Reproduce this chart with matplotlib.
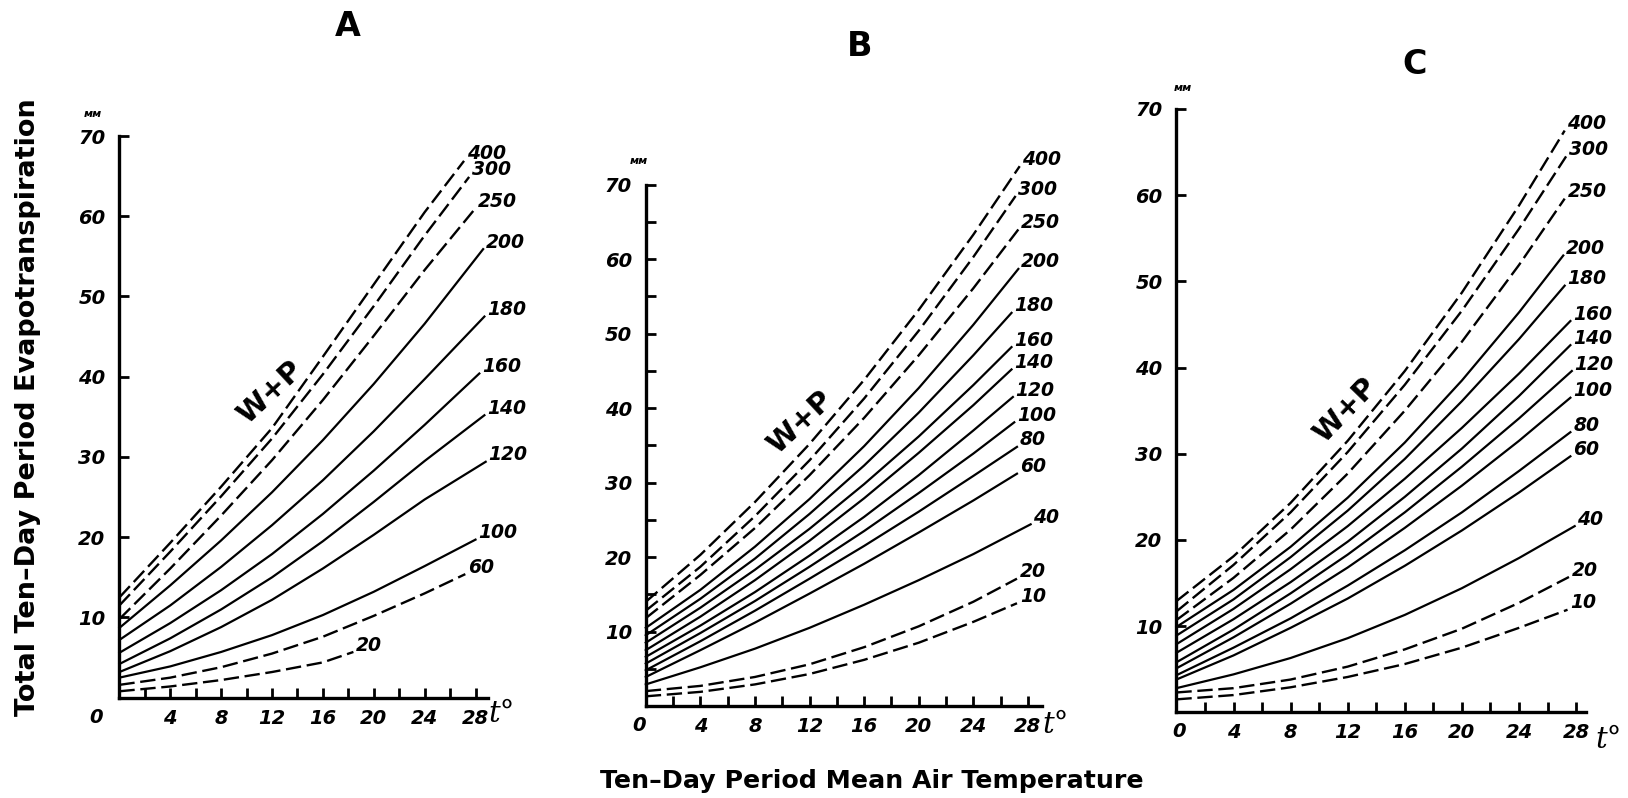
import matplotlib.pyplot as plt

t_grid = [0, 4, 8, 12, 16, 20, 24]

# ---- panel A ----
a_levels = [400, 300, 250, 200, 180, 160, 140, 120, 100, 60, 20]
a_dashed = [400, 300, 250, 60, 20]
a_values = {
    400: [12.5, 19.3, 26.3, 33.6, 42.5, 51.5, 60.5],
    300: [11.5, 18.2, 25.1, 32.3, 40.3, 48.8, 57.6],
    250: [9.8, 16.1, 22.7, 29.6, 37.1, 45.1, 53.3],
    200: [8.7, 14.0, 19.6, 25.6, 32.1, 39.1, 46.6],
    180: [7.2, 11.5, 16.3, 21.5, 27.1, 33.2, 39.7],
    160: [5.6, 9.3, 13.4, 17.9, 22.9, 28.3, 34.0],
    140: [4.2, 7.4, 11.0, 15.0, 19.5, 24.4, 29.5],
    120: [3.2, 5.8, 8.8, 12.2, 16.1, 20.3, 24.7],
    100: [2.5, 3.9, 5.7, 7.8, 10.3, 13.2, 16.4],
    60: [1.6, 2.5, 3.8, 5.5, 7.6, 10.2, 13.0],
    20: [0.8, 1.4, 2.2, 3.2, 4.4],
}
a_ends = {
    400: (27.1, 66.9), 300: (27.5, 64.9), 250: (28.0, 61.0), 200: (28.6, 55.9),
    180: (28.7, 47.5), 160: (28.3, 40.4), 140: (28.7, 35.2), 120: (28.8, 29.4),
    100: (28.0, 19.7), 60: (27.2, 15.4), 20: (18.4, 5.7),
}

# ---- panel B ----
b_levels = [400, 300, 250, 200, 180, 160, 140, 120, 100, 80, 60, 40, 20, 10]
b_dashed = [400, 300, 250, 20, 10]
b_values = {
    400: [14.0, 20.3, 27.4, 35.2, 43.8, 53.2, 63.3],
    300: [12.8, 18.7, 25.5, 33.0, 41.3, 50.4, 60.3],
    250: [11.8, 17.6, 23.9, 31.0, 38.7, 47.1, 56.1],
    200: [10.5, 15.6, 21.4, 27.8, 34.9, 42.7, 51.2],
    180: [9.5, 14.4, 19.8, 25.8, 32.3, 39.4, 47.1],
    160: [8.5, 13.2, 18.3, 23.8, 29.8, 36.2, 43.1],
    140: [7.5, 12.0, 16.9, 22.2, 27.9, 34.0, 40.4],
    120: [6.6, 10.8, 15.3, 20.2, 25.4, 31.0, 37.0],
    100: [5.7, 9.8, 14.1, 18.7, 23.5, 28.6, 33.9],
    80: [4.8, 8.7, 12.8, 17.1, 21.5, 26.1, 30.9],
    60: [3.9, 7.5, 11.2, 15.1, 19.1, 23.3, 27.6],
    40: [2.9, 5.2, 7.7, 10.5, 13.6, 16.9, 20.4],
    20: [2.0, 2.7, 3.9, 5.6, 7.9, 10.7, 14.0],
    10: [1.3, 1.9, 2.9, 4.3, 6.2, 8.5, 11.3],
}
b_ends = {
    400: (27.4, 72.5), 300: (27.1, 68.5), 250: (27.3, 64.0), 200: (27.3, 58.7),
    180: (26.8, 52.8), 160: (26.8, 48.2), 140: (26.8, 45.2), 120: (26.9, 41.5),
    100: (27.0, 38.1), 80: (27.2, 34.8), 60: (27.2, 31.2), 40: (28.2, 24.4),
    20: (27.2, 17.1), 10: (27.2, 13.8),
}

# ---- panel C ----
c_levels = [400, 300, 250, 200, 180, 160, 140, 120, 100, 80, 60, 40, 20, 10]
c_dashed = [400, 300, 250, 20, 10]
c_values = {
    400: [12.9, 18.1, 24.3, 31.5, 39.6, 48.7, 58.8],
    300: [11.7, 17.1, 23.2, 30.2, 38.0, 46.6, 56.1],
    250: [10.7, 15.6, 21.2, 27.7, 35.0, 43.0, 51.9],
    200: [9.9, 14.2, 19.2, 24.9, 31.3, 38.5, 46.4],
    180: [8.9, 13.1, 18.0, 23.4, 29.4, 36.1, 43.3],
    160: [7.9, 12.0, 16.6, 21.6, 27.1, 33.0, 39.3],
    140: [6.9, 10.8, 15.1, 19.8, 25.0, 30.6, 36.7],
    120: [5.8, 9.6, 13.8, 18.3, 23.2, 28.5, 34.1],
    100: [5.1, 8.7, 12.6, 16.8, 21.4, 26.3, 31.5],
    80: [4.3, 7.5, 10.9, 14.7, 18.8, 23.2, 28.0],
    60: [3.8, 6.6, 9.8, 13.2, 17.0, 21.1, 25.5],
    40: [2.8, 4.4, 6.3, 8.6, 11.3, 14.4, 17.9],
    20: [2.3, 2.8, 3.8, 5.3, 7.3, 9.7, 12.7],
    10: [1.5, 2.0, 2.9, 4.1, 5.6, 7.5, 9.8],
}
c_ends = {
    400: (27.2, 67.5), 300: (27.3, 64.5), 250: (27.2, 59.6), 200: (27.1, 53.0),
    180: (27.2, 49.5), 160: (27.6, 45.4), 140: (27.6, 42.6), 120: (27.7, 39.6),
    100: (27.6, 36.5), 80: (27.6, 32.5), 60: (27.6, 29.7), 40: (27.9, 21.6),
    20: (27.5, 15.7), 10: (27.4, 11.9),
}

x_major = [4, 8, 12, 16, 20, 24, 28]
x_minor = [2, 6, 10, 14, 18, 22, 26]
y_major = [10, 20, 30, 40, 50, 60, 70]
y_minor = [5, 15, 25, 35, 45, 55, 65]

W, H = 1628, 798
fig = plt.figure(figsize=(W / 100, H / 100), dpi=100)
fig.patch.set_facecolor("white")

num_font = dict(fontweight="bold", fontstyle="italic", family="DejaVu Sans")


def make_axes(x0, x28, y0, y70, xmax):
    # axes placed from pixel positions of the origin, t=28 and 70 mm
    px_t = (x28 - x0) / 28
    left = x0 / W
    width = px_t * xmax / W
    bottom = 1 - y0 / H
    height = (y0 - y70) / H
    ax = fig.add_axes([left, bottom, width, height])
    ax.set_xlim(0, xmax)
    ax.set_ylim(0, 70)
    return ax


def draw_panel(ax, levels, values, ends, dashed, wp_xy, wp_rot, zero_dx, minor_y=False):
    for lev in levels:
        vals = values[lev]
        xs = t_grid[:len(vals)] + [ends[lev][0]]
        ys = vals + [ends[lev][1]]
        if lev in dashed:
            ax.plot(xs, ys, color="black", lw=1.7, dashes=(6.5, 2.4),
                    clip_on=False, solid_capstyle="butt")
        else:
            ax.plot(xs, ys, color="black", lw=1.6, clip_on=False)
        ax.annotate(str(lev), xy=ends[lev], xytext=(2, 5), textcoords="offset points",
                    ha="left", va="center", fontsize=13.5, annotation_clip=False,
                    **num_font)

    for side in ("top", "right"):
        ax.spines[side].set_visible(False)
    for side in ("left", "bottom"):
        ax.spines[side].set_linewidth(2.4)
    ax.set_xticks(x_major, labels=[str(v) for v in x_major], fontsize=14, **num_font)
    ax.set_xticks(x_minor, minor=True)
    ax.set_yticks(y_major, labels=[str(v) for v in y_major], fontsize=14, **num_font)
    if minor_y:
        ax.set_yticks(y_minor, minor=True)
    ax.tick_params(which="both", direction="in", length=7, width=2, color="black")
    ax.tick_params(axis="x", pad=8)
    ax.tick_params(axis="y", pad=10)
    ax.patch.set_alpha(0)

    # the shared zero at the corner
    ax.annotate("0", xy=(0, 0), xytext=(zero_dx, -14), textcoords="offset points",
                ha="center", va="center", fontsize=14, annotation_clip=False, **num_font)

    fig.text(wp_xy[0] / W, 1 - wp_xy[1] / H, "W+P", rotation=wp_rot, ha="center",
             va="center", fontsize=21, fontweight="heavy", family="DejaVu Sans")


ax_a = make_axes(119.4, 475.5, 697.7, 136.0, 29.0)
draw_panel(ax_a, a_levels, a_values, a_ends, a_dashed, (270, 393), 43, -17)

ax_b = make_axes(645.8, 1027.9, 706.0, 184.8, 29.0)
draw_panel(ax_b, b_levels, b_values, b_ends, b_dashed, (800, 423), 43, -5, minor_y=True)

ax_c = make_axes(1176.4, 1576.1, 712.3, 109.0, 28.7)
draw_panel(ax_c, c_levels, c_values, c_ends, c_dashed, (1345, 410), 46, 2)

# panel letters, units and the t-degree axis marks
for letter, (px, py) in zip("ABC", [(348, 26), (860, 47), (1415, 64)]):
    fig.text(px / W, 1 - py / H, letter, ha="center", va="center",
             fontsize=24, fontweight="heavy", family="DejaVu Sans")
for px, py in [(93, 114), (639, 161), (1183, 88)]:
    fig.text(px / W, 1 - py / H, "мм", ha="center", va="center", fontsize=8, **num_font)
for px, py in [(502, 714), (1056, 725), (1609, 740)]:
    fig.text(px / W, 1 - py / H, "t°", ha="center", va="center", fontsize=21,
             fontstyle="italic", family="DejaVu Serif")

fig.text(28 / W, 1 - 407 / H, "Total Ten–Day Period Evapotranspiration", rotation=90,
         ha="center", va="center", fontsize=19.5, fontweight="heavy", family="DejaVu Sans")
fig.text(872 / W, 1 - 781 / H, "Ten–Day Period Mean Air Temperature", ha="center",
         va="center", fontsize=18.2, fontweight="heavy", family="DejaVu Sans")

fig.savefig("out.png", dpi=100, facecolor="white")
